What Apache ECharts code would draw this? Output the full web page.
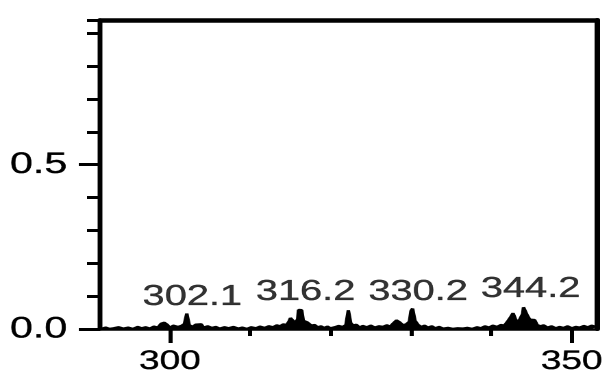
<!DOCTYPE html>
<html>
<head>
<meta charset="utf-8">
<script src="https://cdn.jsdelivr.net/npm/echarts@6/dist/echarts.min.js"></script>
<style>
  html, body { margin: 0; padding: 0; background: #fff; overflow: hidden; }
  /* The plot is drawn narrow and widened, giving the broad lettering of the figure */
  #chart { width: 443px; height: 379px; transform: scaleX(1.37); transform-origin: 0 0; }
</style>
</head>
<body>
<div id="chart"></div>
<script>
// m/z sampling of the profile trace
const mz = [
  291.4, 292.0, 292.5, 293.0, 293.6, 294.2, 294.8, 295.4, 296.0, 296.5,
  297.0, 297.5, 298.0, 298.5, 298.9, 299.3, 299.7, 300.0, 300.4, 300.7,
  301.0, 301.4, 301.8, 302.1, 302.4, 302.8, 303.2, 303.5, 303.9, 304.2,
  304.7, 305.2, 305.7, 306.2, 306.8, 307.3, 307.9, 308.5, 309.0, 309.6,
  310.1, 310.7, 311.2, 311.8, 312.3, 312.8, 313.3, 313.7, 314.1, 314.5,
  314.8, 315.0, 315.3, 315.6, 315.9, 316.0, 316.2, 316.4, 316.6, 316.9,
  317.1, 317.3, 317.6, 318.0, 318.4, 318.8, 319.2, 319.6, 320.0, 320.5,
  321.0, 321.5, 321.9, 322.2, 322.5, 322.8, 323.2, 323.6, 324.0, 324.5,
  325.0, 325.5, 326.0, 326.5, 327.0, 327.4, 327.8, 328.2, 328.6, 329.0,
  329.4, 329.8, 330.0, 330.2, 330.5, 330.9, 331.3, 331.7, 332.1, 332.6,
  333.0, 333.5, 334.0, 334.6, 335.2, 335.8, 336.4, 337.0, 337.6, 338.2,
  338.7, 339.2, 339.7, 340.2, 340.7, 341.2, 341.6, 342.0, 342.4, 342.7,
  343.0, 343.3, 343.6, 343.9, 344.0, 344.2, 344.5, 344.8, 345.1, 345.4,
  345.7, 346.1, 346.5, 347.0, 347.5, 348.0, 348.5, 349.0, 349.5, 350.0,
  350.5, 351.0, 351.5, 352.0, 352.5, 353.0
];
// relative intensity at each m/z
const intensity = [
  0.000, 0.004, 0.000, 0.002, 0.005, 0.001, 0.004, 0.000, 0.006, 0.002,
  0.005, 0.001, 0.007, 0.004, 0.016, 0.019, 0.012, 0.003, 0.010, 0.014,
  0.006, 0.009, 0.015, 0.047, 0.012, 0.006, 0.013, 0.008, 0.014, 0.004,
  0.008, 0.003, 0.006, 0.001, 0.005, 0.002, 0.006, 0.001, 0.004, 0.000,
  0.005, 0.002, 0.007, 0.003, 0.008, 0.005, 0.011, 0.008, 0.014, 0.012,
  0.022, 0.033, 0.028, 0.018, 0.030, 0.058, 0.063, 0.057, 0.025, 0.021,
  0.020, 0.015, 0.010, 0.012, 0.005, 0.008, 0.003, 0.007, 0.002, 0.005,
  0.009, 0.006, 0.012, 0.057, 0.018, 0.010, 0.013, 0.004, 0.009, 0.005,
  0.010, 0.004, 0.008, 0.006, 0.011, 0.007, 0.017, 0.026, 0.020, 0.011,
  0.014, 0.022, 0.055, 0.062, 0.025, 0.012, 0.006, 0.010, 0.004, 0.008,
  0.002, 0.006, 0.001, 0.003, 0.000, 0.002, 0.001, 0.003, 0.000, 0.005,
  0.002, 0.008, 0.004, 0.010, 0.006, 0.012, 0.010, 0.022, 0.036, 0.048,
  0.030, 0.018, 0.024, 0.046, 0.066, 0.072, 0.040, 0.028, 0.030, 0.027,
  0.012, 0.008, 0.011, 0.004, 0.008, 0.002, 0.006, 0.003, 0.008, 0.002,
  0.006, 0.004, 0.009, 0.005, 0.010, 0.006
];
// annotated peak positions
const peakMz = [302.1, 316.2, 330.2, 344.2];
const peakText = ['302.1', '316.2', '330.2', '344.2'];

// axis ticks
const xMinorTicks = [300, 310, 320, 330, 340, 350];
const xLabelTicks = [300, 350];
const yMinorTicks = [0.1, 0.2, 0.3, 0.4, 0.6, 0.7, 0.8, 0.9, 0.94];
const yLabelTicks = [0, 0.5];

const X_MIN = 291.3, X_MAX = 353.1, Y_MIN = 0, Y_MAX = 0.94;

const trace = mz.map((m, i) => [m, intensity[i]]);
const peaks = peakMz.map((m, i) => ({
  value: [m, intensity[mz.indexOf(m)]],
  label: { formatter: peakText[i] }
}));

const black = '#000';
const font = 'Liberation Sans, Arial, Helvetica, sans-serif';
// a thin outline in the text colour gives the lettering its solid weight
const solidText = { color: black, fontFamily: font, textBorderColor: black, textBorderWidth: 0.35 };

const chart = echarts.init(document.getElementById('chart'), null, { renderer: 'canvas', devicePixelRatio: 2 });

const hidden = { show: false };
chart.setOption({
  animation: false,
  backgroundColor: '#fff',
  grid: { left: 73, right: 7, top: 20, bottom: 50, containLabel: false },
  xAxis: [
    { // bottom axis with short ticks
      type: 'value', min: X_MIN, max: X_MAX, position: 'bottom',
      axisLine: { show: true, onZero: false, lineStyle: { color: black, width: 2.5 } },
      axisTick: { show: true, customValues: xMinorTicks, length: 7, lineStyle: { color: black, width: 3 } },
      axisLabel: hidden, splitLine: hidden
    },
    { // long ticks and labels at 300 / 350
      type: 'value', min: X_MIN, max: X_MAX, position: 'bottom',
      axisLine: { show: false },
      axisTick: { show: true, customValues: xLabelTicks, length: 14, lineStyle: { color: black, width: 3 } },
      axisLabel: Object.assign({ show: true, customValues: xLabelTicks, margin: 19, fontSize: 27 }, solidText),
      splitLine: hidden
    },
    { // top frame line
      type: 'value', min: X_MIN, max: X_MAX, position: 'top',
      axisLine: { show: true, onZero: false, lineStyle: { color: black, width: 4.5 } },
      axisTick: hidden, axisLabel: hidden, splitLine: hidden
    }
  ],
  yAxis: [
    { // left axis with short ticks
      type: 'value', min: Y_MIN, max: Y_MAX, position: 'left',
      axisLine: { show: true, onZero: false, lineStyle: { color: black, width: 3.5 } },
      axisTick: { show: true, customValues: yMinorTicks, length: 9.5, lineStyle: { color: black, width: 3 } },
      axisLabel: hidden, splitLine: hidden
    },
    { // long ticks and labels at 0.0 / 0.5
      type: 'value', min: Y_MIN, max: Y_MAX, position: 'left',
      axisLine: { show: false },
      axisTick: { show: true, customValues: yLabelTicks, length: 15.5, lineStyle: { color: black, width: 3 } },
      axisLabel: Object.assign({
        show: true, customValues: yLabelTicks, margin: 24, fontSize: 30,
        formatter: v => v.toFixed(1)
      }, solidText),
      splitLine: hidden
    },
    { // right frame line
      type: 'value', min: Y_MIN, max: Y_MAX, position: 'right',
      axisLine: { show: true, onZero: false, lineStyle: { color: black, width: 4 } },
      axisTick: hidden, axisLabel: hidden, splitLine: hidden
    }
  ],
  series: [
    {
      type: 'line', xAxisIndex: 0, yAxisIndex: 0,
      data: trace, symbol: 'none', clip: true,
      lineStyle: { color: black, width: 2.5 },
      areaStyle: { color: black, opacity: 1 },
      z: 3
    },
    {
      type: 'scatter', xAxisIndex: 0, yAxisIndex: 0,
      data: peaks, symbolSize: 0, silent: true,
      label: Object.assign({
        show: true, position: 'top', distance: 2, offset: [4, 0], fontSize: 29
      }, solidText),
      z: 4
    }
  ]
});
</script>
</body>
</html>
